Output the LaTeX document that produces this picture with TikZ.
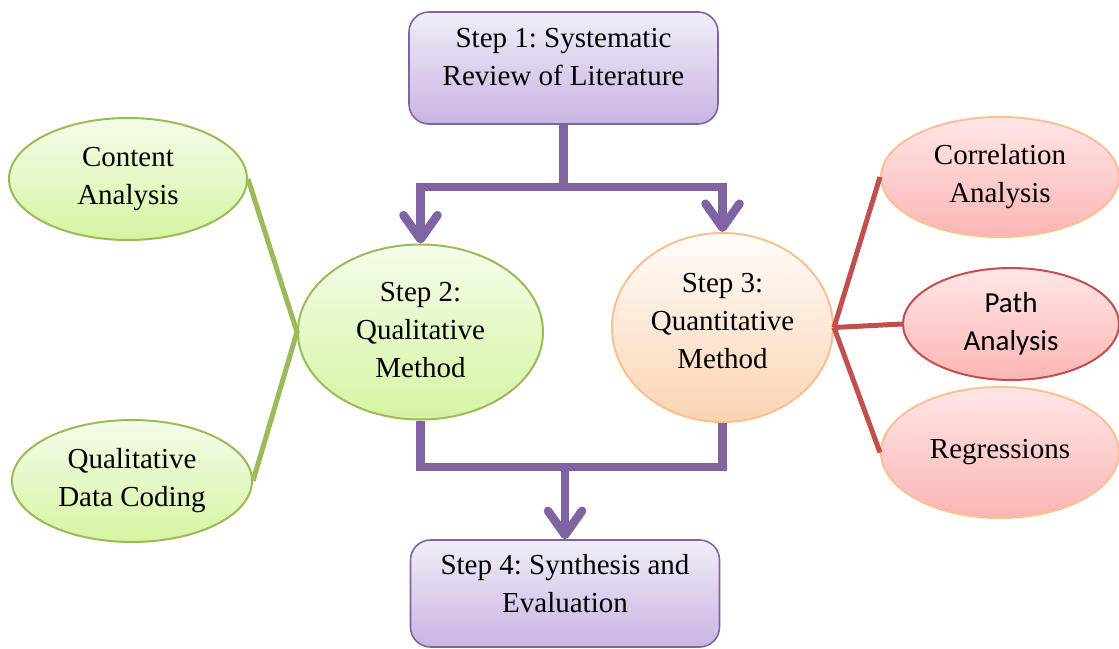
\documentclass[tikz,border=0pt]{standalone}
\usepackage{fontspec}
\setmainfont{Liberation Serif}
\newfontfamily\calibri{Carlito}
\frenchspacing
\usetikzlibrary{shapes.geometric,arrows.meta}
\definecolor{pline}{HTML}{8064A2}
\definecolor{ptop}{HTML}{F2EDF9}
\definecolor{pbot}{HTML}{C8B4E2}
\definecolor{gline}{HTML}{9BBB59}
\definecolor{gtop}{HTML}{F4FCEA}
\definecolor{gbot}{HTML}{D6F4A2}
\definecolor{oline}{HTML}{FAC090}
\definecolor{otop}{HTML}{FFFDFB}
\definecolor{obot}{HTML}{FBD3B2}
\definecolor{rline}{HTML}{C0504D}
\definecolor{rtop}{HTML}{FFE6E6}
\definecolor{rbot}{HTML}{FBB5B5}
\tikzset{
  txt/.style={font=\fontsize{14.5}{19}\selectfont, align=center, text=black},
  stepbox/.style={txt, draw=pline, line width=0.8pt, rounded corners=10pt,
    top color=ptop, bottom color=pbot, minimum width=154.5pt, inner sep=0pt},
  ell/.style={txt, ellipse, inner sep=0pt, line width=1pt},
  green ell/.style={ell, draw=gline, top color=gtop, bottom color=gbot},
  orange ell/.style={ell, draw=oline, top color=otop, bottom color=obot},
  red ell/.style={ell, draw=oline, shading angle=20, top color=rtop, bottom color=rbot},
  flow/.style={draw=pline, line width=4.3pt},
  arr/.style={flow, -{Straight Barb[length=12pt,width=17pt,line cap=round,line join=round]}},
  gconn/.style={draw=gline, line width=2.5pt},
  rconn/.style={draw=rline, line width=2.5pt},
}
\begin{document}
\begin{tikzpicture}[x=0.5pt,y=-0.5pt]
\useasboundingbox (0,0) rectangle (1119,648);
% main steps
\node[stepbox, minimum height=56pt, text depth=11pt] (s1) at (563.5,68)
  {Step 1: Systematic\\Review of Literature};
\node[stepbox, minimum height=53.5pt, text depth=10pt] (s4) at (565,593.5)
  {Step 4: Synthesis and\\Evaluation};
\node[green ell, minimum width=122.5pt, minimum height=87.5pt, text depth=2.5pt] (s2) at (420.5,332)
  {Step 2:\\Qualitative\\Method};
\node[orange ell, minimum width=110.5pt, minimum height=94.5pt, text depth=7pt] (s3) at (722.5,327.5)
  {Step 3:\\Quantitative\\Method};
% side ellipses
\node[green ell, minimum width=119pt, minimum height=61pt, text depth=3pt] (ca) at (128,179)
  {Content\\Analysis};
\node[green ell, minimum width=120pt, minimum height=61pt] (qdc) at (132,481)
  {Qualitative\\Data Coding};
\node[red ell, minimum width=119pt, minimum height=60pt] (cor) at (1000,177)
  {Correlation\\Analysis};
\node[red ell, draw=rline, minimum width=108pt, minimum height=56pt] (pa) at (1011,324)
  {\calibri Path\\\calibri Analysis};
\node[red ell, minimum width=119pt, minimum height=65.5pt] (reg) at (1000,452.5)
  {Regressions};
% junctions
\coordinate (j1) at (563.5,187);
\coordinate (j2) at (565,467);
% flow connectors
\draw[flow] (s1.south) -- (j1);
\draw[arr] (j1) -| (s2.north);
\draw[arr] (j1) -| (s3.north);
\draw[flow] (s2.south) |- (j2);
\draw[flow] (s3.south) |- (j2);
\draw[arr] (j2) -- (s4.north);
% side connectors
\draw[gconn] (ca.east) -- (s2.west) -- (qdc.east);
\draw[rconn] (cor.west) -- (s3.east);
\draw[rconn] (pa.west) -- (s3.east);
\draw[rconn] (reg.west) -- (s3.east);
\end{tikzpicture}
\end{document}
